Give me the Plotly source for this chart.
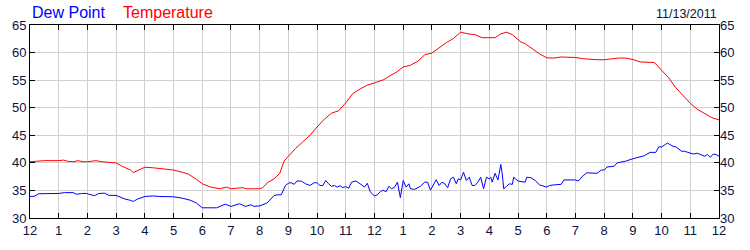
import plotly.graph_objects as go

temp_hours = [0, 0.5, 1, 1.17, 1.3, 1.5, 1.68, 1.85, 2, 2.3, 2.5, 3, 3.2, 3.5, 3.6, 3.8, 4, 4.3, 4.5, 5,
              5.3, 5.5, 5.8, 6, 6.3, 6.6, 6.85, 7, 7.4, 7.55, 8, 8.1, 8.3, 8.5, 8.7, 8.85, 9, 9.25, 9.5, 9.75,
              10, 10.25, 10.5, 10.75, 11, 11.25, 11.5, 11.75, 12, 12.33, 12.5, 12.75, 13, 13.25, 13.5, 13.75,
              14, 14.25, 14.5, 14.75, 15, 15.25, 15.5, 15.75, 16, 16.2, 16.4, 16.6, 16.8, 17, 17.1, 17.25,
              17.5, 17.75, 18, 18.25, 18.5, 18.75, 19, 19.25, 19.5, 19.75, 20, 20.25, 20.5, 20.75, 21, 21.25,
              21.5, 21.75, 22, 22.25, 22.5, 22.75, 23, 23.25, 23.5, 23.75, 24]
temp_values = [40.2, 40.4, 40.4, 40.5, 40.3, 40.2, 40.4, 40.2, 40.2, 40.4, 40.2, 40.0, 39.4, 38.7, 38.25, 38.8,
               39.2, 39.1, 38.95, 38.7, 38.3, 38.0, 37.0, 36.2, 35.6, 35.3, 35.6, 35.3, 35.5, 35.3, 35.3, 35.5,
               36.5, 37.1, 38.1, 40.3, 41.2, 42.6, 43.8, 45.0, 46.5, 47.9, 49.0, 49.45, 50.9, 52.6, 53.4, 54.1,
               54.5, 55.1, 55.7, 56.4, 57.4, 57.7, 58.4, 59.6, 59.9, 60.9, 61.8, 62.55, 63.7, 63.4, 63.25, 62.7,
               62.7, 62.7, 63.4, 63.7, 63.25, 62.4, 61.9, 61.6, 60.7, 59.75, 59.05, 59.0, 59.2, 59.2, 59.1, 58.9,
               58.75, 58.7, 58.7, 58.9, 59.0, 59.0, 58.75, 58.3, 58.3, 58.2, 56.8, 55.4, 53.6, 52.2, 50.8, 49.7,
               48.9, 48.2, 47.8]

dew_hours = [0, 0.15, 0.3, 0.5, 1, 1.2, 1.5, 1.63, 1.8, 1.98, 2.05, 2.25, 2.4, 2.6, 2.75, 3, 3.3, 3.5, 3.6, 3.75,
             4, 4.3, 4.5, 5, 5.3, 5.6, 5.8, 6, 6.5, 6.8, 7, 7.3, 7.5, 7.7, 7.8, 8, 8.25, 8.5, 8.6, 8.75, 8.9,
             9, 9.1, 9.2, 9.3, 9.45, 9.6, 9.75, 9.9, 10, 10.1, 10.2, 10.3, 10.4, 10.5, 10.6, 10.7, 10.8, 10.9,
             11, 11.1, 11.2, 11.35, 11.5, 11.65, 11.75, 11.85, 12, 12.1, 12.2, 12.3, 12.4, 12.5, 12.6, 12.7,
             12.8, 12.9, 13, 13.1, 13.2, 13.25, 13.4, 13.5, 13.6, 13.75, 13.85, 13.95, 14.05, 14.15, 14.25,
             14.35, 14.45, 14.55, 14.65, 14.75, 14.85, 14.92, 15, 15.1, 15.2, 15.3, 15.4, 15.5, 15.6, 15.7,
             15.8, 15.9, 16, 16.05, 16.1, 16.2, 16.3, 16.4, 16.45, 16.5, 16.6, 16.7, 16.8, 16.85, 17, 17.15,
             17.25, 17.3, 17.45, 17.6, 17.75, 18, 18.1, 18.25, 18.5, 18.6, 19, 19.1, 19.25, 19.4, 19.75, 19.9,
             20, 20.1, 20.35, 20.45, 20.75, 21, 21.2, 21.4, 21.6, 21.8, 21.9, 22, 22.1, 22.2, 22.3, 22.4, 22.5,
             22.7, 22.8, 23, 23.1, 23.25, 23.4, 23.5, 23.6, 23.7, 23.8, 23.9, 24]
dew_values = [33.9, 33.95, 34.4, 34.4, 34.45, 34.6, 34.6, 34.3, 34.45, 34.45, 34.3, 34.05, 34.45, 34.5, 34.1,
              34.1, 33.45, 33.2, 33.0, 33.45, 33.9, 34.0, 33.9, 33.85, 33.6, 33.2, 32.7, 31.85, 31.85, 32.5,
              32.1, 32.6, 32.1, 32.4, 32.1, 32.2, 32.7, 34.05, 34.2, 34.2, 35.9, 36.3, 36.4, 36.1, 36.7, 36.7,
              36.2, 35.9, 36.4, 36.4, 35.9, 35.9, 36.8, 36.2, 35.75, 35.9, 35.6, 35.85, 35.5, 35.7, 35.4, 36.5,
              36.7, 36.2, 35.6, 36.3, 34.75, 34.0, 34.2, 34.75, 35.05, 34.75, 35.75, 35.3, 35.6, 36.5, 33.7,
              36.8, 35.6, 36.2, 35.3, 35.2, 35.5, 35.75, 36.5, 36.5, 35.05, 36.1, 36.95, 35.9, 36.5, 36.2,
              35.5, 37.1, 37.4, 36.2, 37.1, 36.9, 38.3, 36.8, 37.4, 35.9, 35.9, 36.5, 37.4, 35.3, 37.4, 37.1,
              37.4, 36.5, 38.1, 36.9, 39.7, 38.0, 35.3, 35.75, 36.2, 36.1, 37.4, 36.7, 36.6, 36.5, 37.4, 37.3,
              36.8, 36.0, 35.6, 35.9, 36.0, 36.1, 36.9, 36.9, 36.7, 37.6, 38.2, 38.1, 38.7, 38.7, 39.25, 39.4,
              40.0, 40.3, 40.75, 41.0, 41.3, 41.9, 41.9, 42.9, 42.9, 43.2, 43.6, 43.3, 43.0, 42.9, 42.1, 42.1,
              41.85, 41.6, 41.75, 41.5, 41.2, 41.5, 41.0, 41.6, 41.5, 41.2]

hour_ticks = list(range(0, 25))
hour_labels = ["12", "1", "2", "3", "4", "5", "6", "7", "8", "9", "10", "11",
               "12", "1", "2", "3", "4", "5", "6", "7", "8", "9", "10", "11", "12"]
y_ticks = [30, 35, 40, 45, 50, 55, 60, 65]
date_label = "11/13/2011"
series_names = ["Dew Point", "Temperature"]
series_colors = ["#0000ff", "#ff0000"]

FONT = "Liberation Sans, Arial, sans-serif"
LABEL_COLOR = "#0a1440"

fig = go.Figure()
fig.add_trace(go.Scatter(x=dew_hours, y=dew_values, mode="lines", name=series_names[0],
                         line=dict(color=series_colors[0], width=1), hoverinfo="skip"))
fig.add_trace(go.Scatter(x=temp_hours, y=temp_values, mode="lines", name=series_names[1],
                         line=dict(color=series_colors[1], width=1), hoverinfo="skip"))
# invisible trace to host right axis
fig.add_trace(go.Scatter(x=[0], y=[30], yaxis="y2", mode="markers", marker=dict(opacity=0),
                         showlegend=False, hoverinfo="skip"))

fig.update_layout(
    width=750, height=250,
    margin=dict(l=30, r=31, t=25, b=25),
    paper_bgcolor="white", plot_bgcolor="white",
    showlegend=False,
    font=dict(family=FONT, size=13, color=LABEL_COLOR),
    xaxis=dict(range=[0, 24], tickvals=hour_ticks, ticktext=hour_labels,
               showgrid=True, gridcolor="#d0d0d0", gridwidth=1,
               ticks="inside", ticklen=5, tickcolor="black",
               showline=True, linecolor="black", linewidth=1, mirror="ticks",
               zeroline=False, tickfont=dict(size=13, color=LABEL_COLOR, family=FONT)),
    yaxis=dict(range=[30, 65], tickvals=y_ticks,
               showgrid=True, gridcolor="#d0d0d0", gridwidth=1,
               ticks="inside", ticklen=5, tickcolor="black",
               showline=True, linecolor="black", linewidth=1, mirror=True,
               zeroline=False, tickfont=dict(size=13, color=LABEL_COLOR, family=FONT)),
    yaxis2=dict(range=[30, 65], tickvals=y_ticks, overlaying="y", side="right",
                showgrid=False, ticks="inside", ticklen=5, tickcolor="black",
                showline=False, zeroline=False,
                tickfont=dict(size=13, color=LABEL_COLOR, family=FONT)),
    annotations=[
        dict(text=series_names[0], xref="paper", yref="paper", x=0.0, y=1, yshift=2,
             xanchor="left", yanchor="bottom", showarrow=False,
             font=dict(size=16, color=series_colors[0], family=FONT)),
        dict(text=series_names[1], xref="paper", yref="paper", x=0.132, y=1, yshift=2,
             xanchor="left", yanchor="bottom", showarrow=False,
             font=dict(size=16, color=series_colors[1], family=FONT)),
        dict(text=date_label, xref="paper", yref="paper", x=1.0, y=1, yshift=2,
             xanchor="right", yanchor="bottom", showarrow=False,
             font=dict(size=12.5, color=LABEL_COLOR, family=FONT)),
    ],
)

fig.write_html("out.html")
